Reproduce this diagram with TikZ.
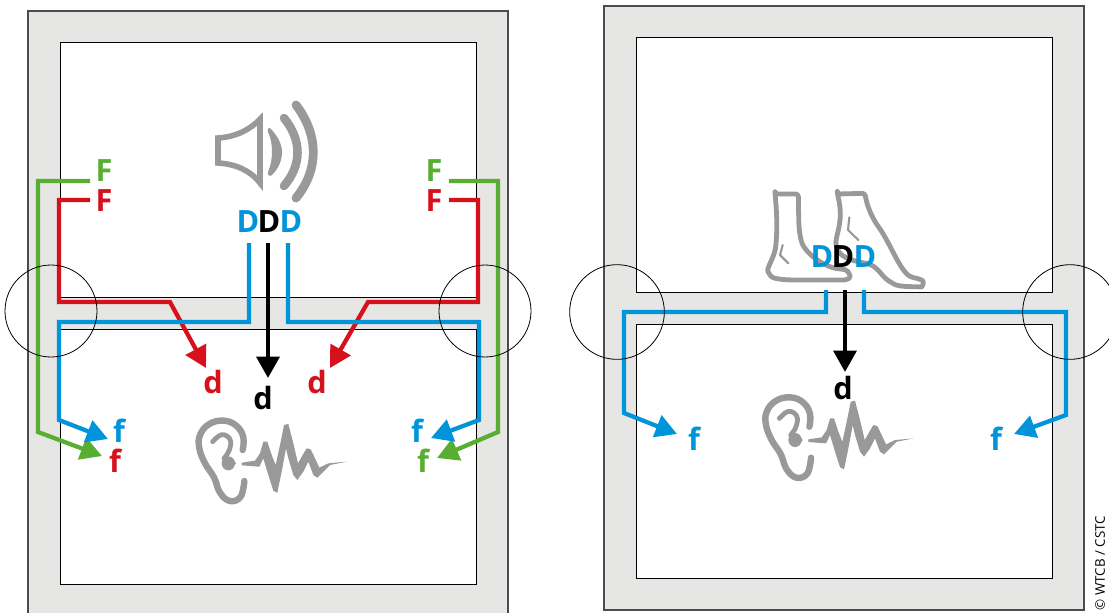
\documentclass[tikz,border=0pt]{standalone}
\usepackage{fontspec}
\setmainfont{Open Sans}
\usetikzlibrary{arrows.meta}
\definecolor{wall}{HTML}{E6E6E5}
\definecolor{cred}{HTML}{D7111B}
\definecolor{cgreen}{HTML}{57AE32}
\definecolor{cblue}{HTML}{0095DA}
\definecolor{cicon}{HTML}{999999}
\tikzset{
  wallbox/.style={fill=wall,draw=black!70,line width=.8pt},
  roombox/.style={fill=white,draw=black,line width=.7pt},
  flank/.style={line width=3.2pt,line join=miter},
  tipped/.style={flank,-{Triangle[length=16pt,width=17pt]}},
  lab/.style={font=\fontsize{23}{23}\selectfont\bfseries,inner sep=0pt,anchor=center},
  zone/.style={draw=black,line width=.6pt},
  iconline/.style={draw=cicon,line cap=round,line join=round,fill=none},
}
\newcommand{\earicon}{%
  \draw[iconline,line width=4.8pt] plot[smooth,tension=.7] coordinates {(188,150)(190,112)(170,78)(132,62)(88,72)(60,105)(58,145)(75,190)(102,232)(120,278)(150,303)(182,290)(193,243)};
  \draw[iconline,line width=3.6pt] plot[smooth,tension=.7] coordinates {(98,125)(125,104)(150,118)(148,150)(132,175)};
  \fill[cicon] (145,190) ellipse (20 and 21);
  \fill[cicon] (155,172) -- (168,190) -- (150,208) -- cycle;
  \fill[cicon] (185,188) -- (225,182) -- (240,160) -- (250,125) -- (262,125) -- (275,165) -- (287,195) -- (300,135) -- (312,75) -- (325,72) -- (340,130) -- (354,190) -- (368,165) -- (380,145) -- (392,148) -- (405,175) -- (418,203) -- (445,190) -- (500,185) -- (450,195) -- (430,215) -- (412,233) -- (400,225) -- (385,185) -- (370,215) -- (352,240) -- (340,225) -- (325,175) -- (318,145) -- (305,215) -- (292,278) -- (280,272) -- (265,225) -- (250,175) -- (238,200) -- (185,196) -- cycle;
}
\begin{document}
\begin{tikzpicture}[x=.75pt,y=-.75pt]
\useasboundingbox (0,0) rectangle (1109,612);
\clip (0,0) rectangle (1109,612);
% left building
\path[wallbox] (28,11) rectangle (508,625);
\path[roombox] (60,42) rectangle (476,297);
\path[roombox] (60,329) rectangle (476,584);
% right building
\path[wallbox] (604,6) rectangle (1084,610);
\path[roombox] (636,37) rectangle (1052,292);
\path[roombox] (636,324) rectangle (1052,578);
% speaker
\draw[iconline,line width=4.2pt,line join=miter] (218,138) .. controls (235,137) and (250,130) .. (260,119) -- (260,183) .. controls (250,170) and (235,164) .. (218,163) -- cycle;
\fill[cicon] (270,128) .. controls (279,137) and (282,146) .. (282,152) .. controls (282,160) and (279,168) .. (272,175) .. controls (270,177) and (267,175) .. (268,172) .. controls (271,165) and (272,158) .. (272,152) .. controls (272,145) and (271,138) .. (268,132) .. controls (267,129) and (269,127) .. (270,128) -- cycle;
\draw[iconline,line width=6.4pt] (284,118) .. controls (302,140) and (302,165) .. (284,186);
\draw[iconline,line width=6.6pt] (296,105) .. controls (319,135) and (319,170) .. (296,198);
% ears
\begin{scope}[shift={(180,400)},x=.25pt,y=-.25pt]\earicon\end{scope}
\begin{scope}[shift={(746.7,376.7)},x=.25pt,y=-.25pt]\earicon\end{scope}
% feet
\begin{scope}[shift={(750,180)},x=.25pt,y=-.25pt]
  \draw[iconline,line width=3.6pt,rounded corners=2pt] (75,42) -- (145,42) .. controls (146,90) and (145,140) .. (152,175) .. controls (160,210) and (200,245) .. (245,262) .. controls (265,268) and (285,265) .. (298,280) .. controls (302,295) and (290,300) .. (275,300) -- (150,300) .. controls (110,300) and (70,298) .. (58,282) .. controls (48,265) and (75,230) .. (78,190) .. controls (82,140) and (80,90) .. (75,42) -- cycle;
  \draw[iconline,line width=1.6pt] (98,195) -- (90,225) -- (115,250);
  \draw[iconline,line width=3.6pt,rounded corners=2pt] (262,42) -- (345,40) .. controls (350,75) and (365,110) .. (385,140) .. controls (420,190) and (445,260) .. (480,290) -- (512,298) .. controls (522,305) and (518,322) .. (505,320) .. controls (480,320) and (445,320) .. (425,308) .. controls (395,290) and (385,262) .. (350,250) .. controls (320,245) and (275,235) .. (262,205) .. controls (250,175) and (285,130) .. (262,42) -- cycle;
  \draw[iconline,line width=1.6pt] (298,112) -- (294,150) -- (325,180);
\end{scope}
% connector ends
\coordinate (a1s) at (90,181);  \coordinate (a1e) at (102,456);
\coordinate (a2s) at (90,200);  \coordinate (a2e) at (206,368);
\coordinate (a3s) at (249,243); \coordinate (a3e) at (108,439);
\coordinate (a4s) at (449,181); \coordinate (a4e) at (437,458);
\coordinate (a5s) at (449,200); \coordinate (a5e) at (330,368);
\coordinate (a6s) at (288,243); \coordinate (a6e) at (431,438);
\coordinate (a7s) at (268,243); \coordinate (a7e) at (268,378);
\coordinate (b1s) at (826,290); \coordinate (b1e) at (677,434);
\coordinate (b2s) at (864,290); \coordinate (b2e) at (1014,434);
\coordinate (b3s) at (845,290); \coordinate (b3e) at (845,372);
% connectors
\draw[tipped,cgreen] (a1s) -- (38,181) -- (38,432) -- (a1e);
\draw[tipped,cgreen] (a4s) -- (498,181) -- (498,432) -- (a4e);
\draw[tipped,cred] (a2s) -- (59,200) -- (59,302) -- (170,302) -- (a2e);
\draw[tipped,cred] (a5s) -- (478,200) -- (478,302) -- (368,302) -- (a5e);
\draw[tipped,cblue] (a3s) -- (249,322) -- (59,322) -- (59,420) -- (a3e);
\draw[tipped,cblue] (a6s) -- (288,322) -- (479,322) -- (479,420) -- (a6e);
\draw[tipped,black] (a7s) -- (a7e);
\draw[tipped,cblue] (b1s) -- (826,312) -- (624,312) -- (624,413) -- (b1e);
\draw[tipped,cblue] (b2s) -- (864,312) -- (1066,312) -- (1066,415) -- (b2e);
\draw[tipped,black] (b3s) -- (b3e);
% zones
\node[zone,circle,minimum size=69pt,inner sep=0pt] (z1) at (51,311) {};
\node[zone,circle,minimum size=69pt,inner sep=0pt] (z2) at (485,311) {};
\node[zone,circle,minimum size=71pt,inner sep=0pt] (z3) at (617,312) {};
\node[zone,circle,minimum size=71pt,inner sep=0pt] (z4) at (1070,312) {};
% labels
\node[lab,cgreen] (l1) at (104,171) {F};
\node[lab,cred] (l2) at (104,201) {F};
\node[lab,cgreen] (l3) at (434,171) {F};
\node[lab,cred] (l4) at (434,201) {F};
\node[lab,cblue] (l5) at (248,222) {D};
\node[lab,black] (l6) at (269,222) {D};
\node[lab,cblue] (l7) at (291,222) {D};
\node[lab,cred] (l8) at (213,382) {d};
\node[lab,black] (l9) at (263,398) {d};
\node[lab,cred] (l10) at (317,382) {d};
\node[lab,cblue] (l11) at (119,431) {f};
\node[lab,cred] (l12) at (115,461) {f};
\node[lab,cblue] (l13) at (417,431) {f};
\node[lab,cgreen] (l14) at (423,461) {f};
\node[lab,cblue] (l15) at (822,257) {D};
\node[lab,black] (l16) at (843,257) {D};
\node[lab,cblue] (l17) at (865,257) {D};
\node[lab,black] (l18) at (843,388) {d};
\node[lab,cblue] (l19) at (694,439) {f};
\node[lab,cblue] (l20) at (996,439) {f};
\node[rotate=90,font=\fontsize{10}{11}\selectfont,inner sep=0pt,anchor=center] (cr) at (1100,563) {© WTCB / CSTC};
\end{tikzpicture}
\end{document}
